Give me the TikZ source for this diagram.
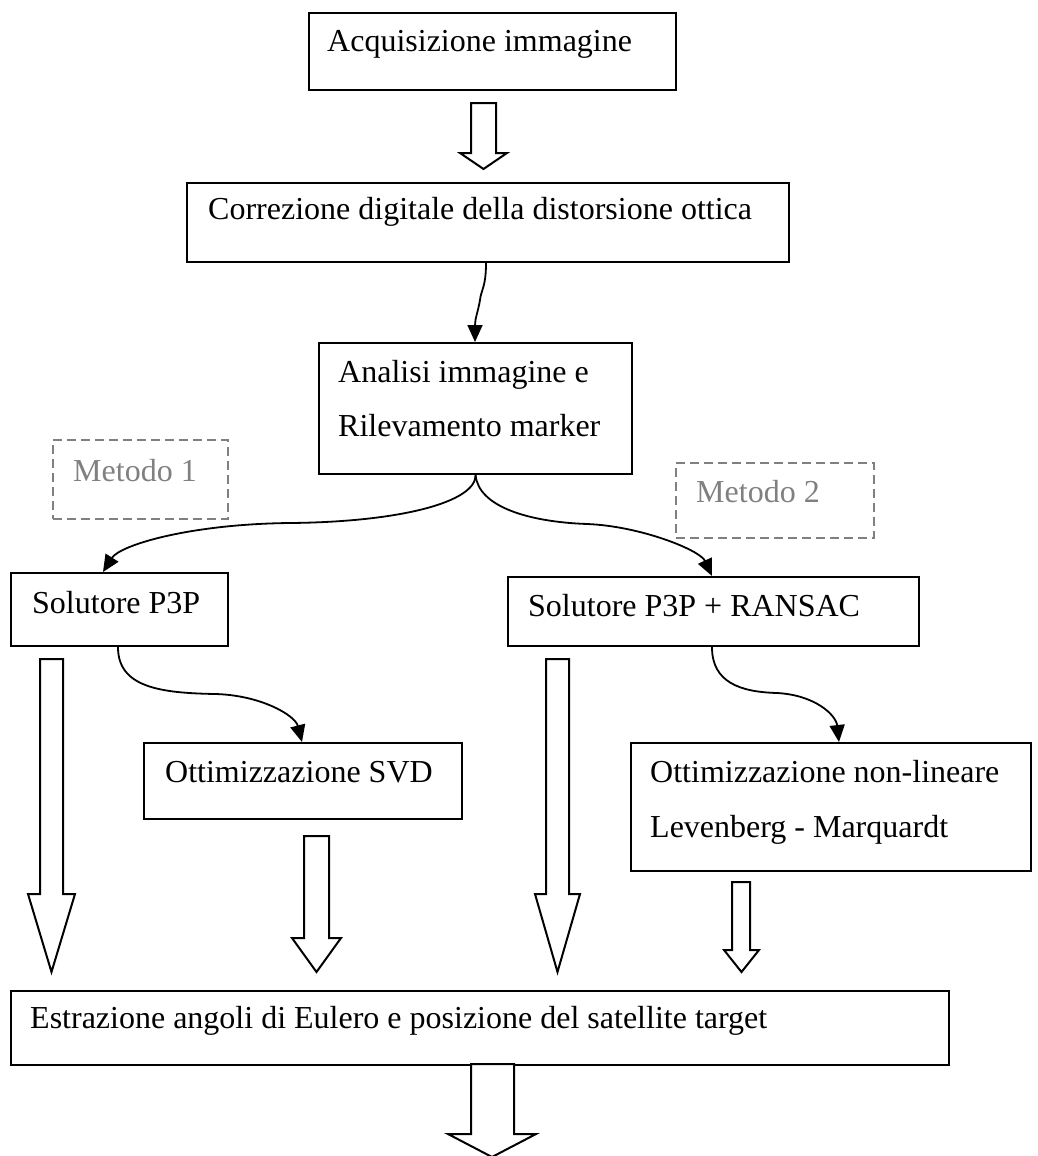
\documentclass[tikz,border=0pt]{standalone}
\usepackage{fontspec}
\setmainfont{Liberation Serif}
\usetikzlibrary{arrows.meta}

\definecolor{methodgray}{RGB}{128,128,128}

\tikzset{
  stepbox/.style={draw, line width=2.2pt, rectangle, inner sep=0pt, anchor=north west},
  boxtext/.style={anchor=base west, inner sep=0pt, font=\fontsize{32}{38}\selectfont},
  methodbox/.style={draw=methodgray, line width=2.2pt, dash pattern=on 9pt off 5pt,
                    rectangle, inner sep=0pt, anchor=north west},
  methodtext/.style={boxtext, text=methodgray},
  link/.style={line width=1.8pt, -{Triangle[length=17pt,width=15pt]}},
  hollow/.style={draw, line width=2pt, fill=white, line join=miter},
}

% hollow block arrow pointing down:
% #1 left of shaft, #2 right of shaft, #3 top, #4 head start,
% #5 left of head, #6 right of head, #7 tip y
\newcommand\hollowdown[7]{%
  \draw[hollow] (#1,#3) -- (#1,#4) -- (#5,#4) -- ({(#5+#6)/2},#7)
    -- (#6,#4) -- (#2,#4) -- (#2,#3) -- cycle;}

\begin{document}
\begin{tikzpicture}[x=1pt, y=-1pt]
  \useasboundingbox (0,0) rectangle (1038,1156);

  % process boxes
  \node[stepbox, minimum width=367pt, minimum height=77pt]  (acq)    at (308,12)  {};
  \node[stepbox, minimum width=602pt, minimum height=79pt]  (corr)   at (186,182) {};
  \node[stepbox, minimum width=313pt, minimum height=131pt] (anal)   at (318,342) {};
  \node[stepbox, minimum width=217pt, minimum height=73pt]  (p3p)    at (10,572)  {};
  \node[stepbox, minimum width=411pt, minimum height=69pt]  (ransac) at (507,576) {};
  \node[stepbox, minimum width=318pt, minimum height=76pt]  (svd)    at (143,742) {};
  \node[stepbox, minimum width=400pt, minimum height=128pt] (lm)     at (630,742) {};
  \node[stepbox, minimum width=938pt, minimum height=74pt]  (est)    at (10,990)  {};

  % method labels
  \node[methodbox, minimum width=175pt, minimum height=79pt] (m1) at (52,439)  {};
  \node[methodbox, minimum width=198pt, minimum height=75pt] (m2) at (675,462) {};

  % texts
  \node[boxtext] (tacq)  at (327,52)   {Acquisizione immagine};
  \node[boxtext] (tcorr) at (208,219)  {Correzione digitale della distorsione ottica};
  \node[boxtext] (tan1)  at (338,382)  {Analisi immagine e};
  \node[boxtext] (tan2)  at (338,436)  {Rilevamento marker};
  \node[methodtext] (tm1) at (73,481)  {Metodo 1};
  \node[methodtext] (tm2) at (696,502) {Metodo 2};
  \node[boxtext] (tp3p)  at (32,613)   {Solutore P3P};
  \node[boxtext] (trans) at (528,616)  {Solutore P3P + RANSAC};
  \node[boxtext] (tsvd)  at (165,782)  {Ottimizzazione SVD};
  \node[boxtext] (tlm1)  at (650,782)  {Ottimizzazione non-lineare};
  \node[boxtext] (tlm2)  at (650,837)  {Levenberg - Marquardt};
  \node[boxtext] (test)  at (30,1028)  {Estrazione angoli di Eulero e posizione del satellite target};

  % curved connectors
  \draw[link] ([xshift=300pt]corr.south west)
      .. controls +(0,24) and +(1,-10) .. (480,300)
      .. controls +(-2,12) and +(0,-24) .. ([xshift=157pt]anal.north west);
  \draw[link] (anal.south)
      .. controls +(0,27) and +(110,-1) .. (290,523)
      .. controls +(-100,1) and +(17,-27) .. ([xshift=93pt]p3p.north west);
  \draw[link] (anal.south)
      .. controls +(3,32) and +(-57,-2) .. (587,524)
      .. controls +(53,2) and +(-12,-26) .. ([xshift=205pt]ransac.north west);
  \draw[link] ([xshift=108pt]p3p.south west)
      .. controls +(0,40) and +(-55,-1) .. (215,694)
      .. controls +(45,1) and +(-7,-27) .. ([xshift=159pt]svd.north west);
  \draw[link] ([xshift=205pt]ransac.south west)
      .. controls +(0,35) and +(-37,-1) .. (777,693)
      .. controls +(38,2) and +(-3,-27) .. ([xshift=209pt]lm.north west);

  % hollow block arrows
  \hollowdown{471}{496}{103}{153}{460}{507}{169}
  \hollowdown{40}{63}{659}{894}{28}{75}{972}
  \hollowdown{304}{329}{836}{938}{292}{341}{972}
  \hollowdown{546}{569}{659}{894}{535}{580}{972}
  \hollowdown{732}{750}{882}{950}{724}{759}{972}
  \hollowdown{471}{514}{1064}{1134}{448}{536}{1157}
\end{tikzpicture}
\end{document}
